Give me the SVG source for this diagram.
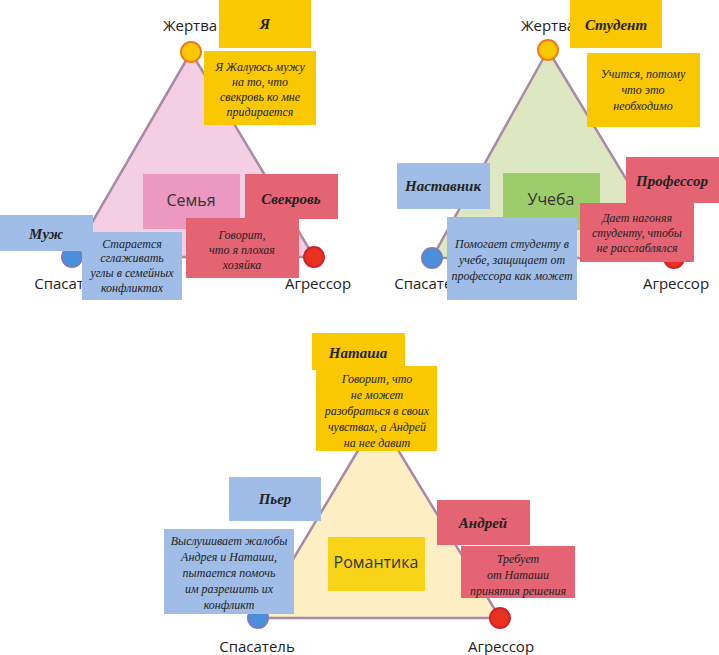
<svg xmlns="http://www.w3.org/2000/svg" width="719" height="655" viewBox="0 0 719 655">
<style>
.tri{stroke:#a98aa6;stroke-width:2.5}
.lbl{font-family:"Open Sans","Liberation Sans",sans-serif;font-size:15px;fill:#222;text-anchor:middle}
.t{font-family:"Liberation Serif",serif;font-style:italic;font-size:12px;fill:#222;text-anchor:middle}
.h{font-family:"Liberation Serif",serif;font-style:italic;font-weight:bold;font-size:15px;fill:#222;text-anchor:middle}
.c{font-family:"Open Sans","Liberation Sans",sans-serif;font-size:16px;fill:#333;text-anchor:middle}
.y{fill:#f9c800}.b{fill:#9fbde6}.r{fill:#e56474}
.vy{fill:#f9c800;stroke:#f07a1a;stroke-width:2}
.vb{fill:#4a8fdc;stroke:#7a7ac0;stroke-width:2}
.vr{fill:#e8321e;stroke:#d02030;stroke-width:2}
</style>
<g id="connectors">
<polygon class="tri" points="191,52 72,257 314,257" fill="#f4cfe4"/>
<polygon class="tri" points="548,50 432,258 674,258" fill="#dde8c2"/>
<polygon class="tri" points="378,417 258,618 500,618" fill="#fdefc3"/>
</g>
<g id="tri1">
<text class="lbl" x="190" y="31">Жертва</text>
<circle class="vy" cx="191" cy="52" r="10"/>
<circle class="vb" cx="72" cy="257" r="10"/>
<circle class="vr" cx="314" cy="257" r="10"/>
<text class="lbl" x="72" y="289">Спасатель</text>
<text class="lbl" x="318" y="289">Агрессор</text>
<g id="n-ya"><rect class="y" x="219" y="0" width="92" height="48"/><text class="h" x="265" y="29">Я</text></g>
<g id="n-ya-d"><rect class="y" x="204" y="51" width="112" height="74"/><text class="t" x="260" y="71">Я Жалуюсь мужу</text><text class="t" x="260" y="86">на то, что</text><text class="t" x="260" y="101">свекровь ко мне</text><text class="t" x="260" y="116">придирается</text></g>
<g id="n-family"><rect x="143" y="174" width="97" height="55" fill="#eb99c0"/><text class="c" x="191" y="206">Семья</text></g>
<g id="n-svek"><rect class="r" x="245" y="174" width="93" height="45"/><text class="h" x="291" y="204">Свекровь</text></g>
<g id="n-svek-d"><rect class="r" x="186" y="218" width="113" height="60"/><text class="t" x="242" y="239">Говорит,</text><text class="t" x="242" y="254">что я плохая</text><text class="t" x="242" y="269">хозяйка</text></g>
<g id="n-muzh"><rect class="b" x="0" y="215" width="93" height="36"/><text class="h" x="46" y="239">Муж</text></g>
<g id="n-muzh-d"><rect class="b" x="82" y="232" width="100" height="68"/><text class="t" x="132" y="248">Старается</text><text class="t" x="132" y="262">сглаживать</text><text class="t" x="132" y="277">углы в семейных</text><text class="t" x="132" y="292">конфликтах</text></g>
</g>
<g id="tri2">
<text class="lbl" x="548" y="31">Жертва</text>
<circle class="vy" cx="548" cy="50" r="10"/>
<circle class="vb" cx="432" cy="258" r="10"/>
<circle class="vr" cx="674" cy="258" r="10"/>
<text class="lbl" x="432" y="289">Спасатель</text>
<text class="lbl" x="676" y="289">Агрессор</text>
<g id="n-stud"><rect class="y" x="570" y="0" width="92" height="48"/><text class="h" x="616" y="30">Студент</text></g>
<g id="n-stud-d"><rect class="y" x="587" y="53" width="113" height="74"/><text class="t" x="643" y="78">Учится, потому</text><text class="t" x="643" y="94">что это</text><text class="t" x="643" y="110">необходимо</text></g>
<g id="n-nast"><rect class="b" x="397" y="163" width="93" height="46"/><text class="h" x="443" y="191">Наставник</text></g>
<g id="n-ucheba"><rect x="503" y="173" width="97" height="57" fill="#9dcc6a"/><text class="c" x="551" y="205">Учеба</text></g>
<g id="n-prof"><rect class="r" x="626" y="157" width="93" height="46"/><text class="h" x="672" y="186">Профессор</text></g>
<g id="n-prof-d"><rect class="r" x="580" y="203" width="114" height="59"/><text class="t" x="637" y="222">Дает нагоняя</text><text class="t" x="637" y="237">студенту, чтобы</text><text class="t" x="637" y="252">не расслаблялся</text></g>
<g id="n-nast-d"><rect class="b" x="447" y="217" width="130" height="83"/><text class="t" x="512" y="248">Помогает студенту в</text><text class="t" x="512" y="264">учебе, защищает от</text><text class="t" x="512" y="280">профессора как может</text></g>
</g>
<g id="tri3">
<circle class="vb" cx="258" cy="618" r="10"/>
<circle class="vr" cx="500" cy="618" r="10"/>
<text class="lbl" x="257" y="652">Спасатель</text>
<text class="lbl" x="501" y="652">Агрессор</text>
<g id="n-nat"><rect class="y" x="312" y="333" width="93" height="37"/><text class="h" x="358" y="358">Наташа</text></g>
<g id="n-nat-d"><rect class="y" x="316" y="366" width="121" height="85"/><text class="t" x="377" y="383">Говорит, что</text><text class="t" x="377" y="399">не может</text><text class="t" x="377" y="415">разобраться в своих</text><text class="t" x="377" y="431">чувствах, а Андрей</text><text class="t" x="377" y="447">на нее давит</text></g>
<g id="n-pier"><rect class="b" x="229" y="477" width="92" height="44"/><text class="h" x="275" y="504">Пьер</text></g>
<g id="n-pier-d"><rect class="b" x="164" y="529" width="130" height="85"/><text class="t" x="229" y="545">Выслушивает жалобы</text><text class="t" x="229" y="561">Андрея и Наташи,</text><text class="t" x="229" y="577">пытается помочь</text><text class="t" x="229" y="593">им разрешить их</text><text class="t" x="229" y="609">конфликт</text></g>
<g id="n-rom"><rect x="328" y="537" width="97" height="54" fill="#f7d417"/><text class="c" x="376" y="568">Романтика</text></g>
<g id="n-andr"><rect class="r" x="437" y="500" width="93" height="45"/><text class="h" x="483" y="528">Андрей</text></g>
<g id="n-andr-d"><rect class="r" x="461" y="546" width="114" height="52"/><text class="t" x="518" y="563">Требует</text><text class="t" x="518" y="579">от Наташи</text><text class="t" x="518" y="595">принятия решения</text></g>
</g>
</svg>
